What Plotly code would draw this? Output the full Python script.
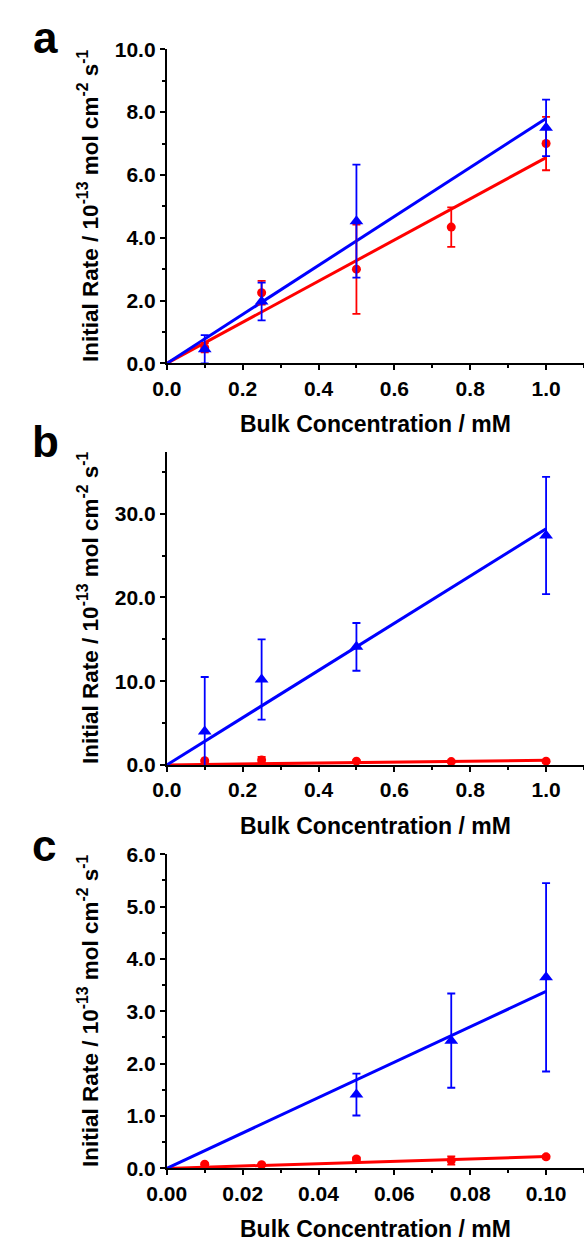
import plotly.graph_objects as go

# ---------------- data ----------------
# panel a
a_blue_x = [0.1, 0.25, 0.5, 1.0]
a_blue_y = [0.45, 1.97, 4.53, 7.5]
a_blue_err = [0.45, 0.6, 1.8, 0.9]
a_red_x = [0.1, 0.25, 0.5, 0.75, 1.0]
a_red_y = [0.5, 2.25, 3.0, 4.34, 7.0]
a_red_err = [0.15, 0.38, 1.42, 0.63, 0.85]
a_blue_slope = 7.8
a_red_slope = 6.55

# panel b
b_blue_x = [0.1, 0.25, 0.5, 1.0]
b_blue_y = [4.0, 10.2, 14.1, 27.4]
b_blue_err = [6.5, 4.8, 2.85, 7.0]
b_red_x = [0.1, 0.25, 0.5, 0.75, 1.0]
b_red_y = [0.5, 0.6, 0.45, 0.4, 0.45]
b_red_err = [0.1, 0.35, 0.1, 0.1, 0.1]
b_blue_slope = 28.2
b_red_slope = 0.55

# panel c
c_blue_x = [0.05, 0.075, 0.1]
c_blue_y = [1.41, 2.44, 3.65]
c_blue_err = [0.4, 0.9, 1.8]
c_red_x = [0.01, 0.025, 0.05, 0.075, 0.1]
c_red_y = [0.08, 0.07, 0.18, 0.15, 0.22]
c_red_err = [0.02, 0.02, 0.03, 0.08, 0.03]
c_blue_slope = 33.8
c_red_slope = 2.25

x_ticks_ab = [0.0, 0.2, 0.4, 0.6, 0.8, 1.0]
x_ticks_c = [0.0, 0.02, 0.04, 0.06, 0.08, 0.10]
y_ticks_a = [0.0, 2.0, 4.0, 6.0, 8.0, 10.0]
y_ticks_b = [0.0, 10.0, 20.0, 30.0]
y_ticks_c = [0.0, 1.0, 2.0, 3.0, 4.0, 5.0, 6.0]

panel_letters = ["a", "b", "c"]
x_title = "Bulk Concentration / mM"
y_title = "Initial Rate / 10<sup>-13</sup> mol cm<sup>-2</sup> s<sup>-1</sup>"

BLUE = "#0000ff"
RED = "#ff0000"
W, H = 584, 1253

fig = go.Figure()

panels = [
    dict(bx=a_blue_x, by=a_blue_y, be=a_blue_err, rx=a_red_x, ry=a_red_y, re=a_red_err,
         bs=a_blue_slope, rs=a_red_slope),
    dict(bx=b_blue_x, by=b_blue_y, be=b_blue_err, rx=b_red_x, ry=b_red_y, re=b_red_err,
         bs=b_blue_slope, rs=b_red_slope),
    dict(bx=c_blue_x, by=c_blue_y, be=c_blue_err, rx=c_red_x, ry=c_red_y, re=c_red_err,
         bs=c_blue_slope, rs=c_red_slope),
]

for i, p in enumerate(panels):
    xa = "x" if i == 0 else f"x{i+1}"
    ya = "y" if i == 0 else f"y{i+1}"
    xmax = max(p["bx"])
    # fit lines
    fig.add_trace(go.Scatter(x=[0, xmax], y=[0, p["rs"] * xmax], mode="lines",
                             line=dict(color=RED, width=3), xaxis=xa, yaxis=ya,
                             showlegend=False, hoverinfo="skip"))
    fig.add_trace(go.Scatter(x=[0, xmax], y=[0, p["bs"] * xmax], mode="lines",
                             line=dict(color=BLUE, width=3), xaxis=xa, yaxis=ya,
                             showlegend=False, hoverinfo="skip"))
    # data points
    fig.add_trace(go.Scatter(x=p["rx"], y=p["ry"], mode="markers",
                             marker=dict(symbol="circle", size=9, color=RED),
                             error_y=dict(type="data", array=p["re"], color=RED,
                                          thickness=1.8, width=4),
                             xaxis=xa, yaxis=ya, showlegend=False))
    fig.add_trace(go.Scatter(x=p["bx"], y=p["by"], mode="markers",
                             marker=dict(symbol="triangle-up", size=12, color=BLUE),
                             error_y=dict(type="data", array=p["be"], color=BLUE,
                                          thickness=1.8, width=4),
                             xaxis=xa, yaxis=ya, showlegend=False))

FAM = "Liberation Sans, Arial, sans-serif"
TICKFONT = dict(family=FAM, size=21, color="black", weight="bold")

x_left = 152 / W

def ydom(top_px, bottom_px):
    return [1 - bottom_px / H, 1 - top_px / H]

def xaxis_cfg(rng, ticks, fmt, minor_dtick, anchor):
    return dict(domain=[x_left, 1.0], range=rng, tickvals=ticks, tickformat=fmt,
                anchor=anchor,
                showline=True, linecolor="black", linewidth=2, ticks="outside",
                ticklen=5, tickwidth=2, tickcolor="black", showgrid=False, zeroline=False,
                tickfont=TICKFONT, fixedrange=True,
                minor=dict(dtick=minor_dtick, tick0=0, ticks="outside", ticklen=3,
                           tickwidth=2, tickcolor="black", showgrid=False))

def yaxis_cfg(dom, rng, ticks, anchor, minor_dtick):
    return dict(domain=dom, range=rng, tickvals=ticks, tickformat=".1f", anchor=anchor,
                showline=True, linecolor="black", linewidth=2, ticks="outside",
                ticklen=5, tickwidth=2, tickcolor="black", showgrid=False, zeroline=False,
                tickfont=TICKFONT, fixedrange=True,
                minor=dict(dtick=minor_dtick, tick0=0, ticks="outside", ticklen=3,
                           tickwidth=2, tickcolor="black", showgrid=False))

doms = [(38, 358), (448, 767), (858, 1178)]

fig.update_layout(
    width=W, height=H, margin=dict(l=0, r=0, t=0, b=0),
    paper_bgcolor="white", plot_bgcolor="white", showlegend=False,
    xaxis=xaxis_cfg([0, 1.1], x_ticks_ab, ".1f", 0.1, "y"),
    xaxis2=xaxis_cfg([0, 1.1], x_ticks_ab, ".1f", 0.1, "y2"),
    xaxis3=xaxis_cfg([0, 0.11], x_ticks_c, ".2f", 0.01, "y3"),
    yaxis=yaxis_cfg(ydom(*doms[0]), [0, 10], y_ticks_a, "x", 1.0),
    yaxis2=yaxis_cfg(ydom(*doms[1]), [0, 37.4], y_ticks_b, "x2", 5.0),
    yaxis3=yaxis_cfg(ydom(*doms[2]), [0, 6], y_ticks_c, "x3", 0.5),
)

annots = []
letter_pos = [(26, 26), (26, 438), (25, 849)]
for i, (top, bot) in enumerate(doms):
    cy = (top + bot) / 2
    annots.append(dict(text=y_title, x=71 / W, y=1 - cy / H, xref="paper", yref="paper",
                       textangle=-90, showarrow=False, xanchor="center", yanchor="middle",
                       font=dict(family=FAM, size=22.5, color="black", weight="bold")))
    annots.append(dict(text=x_title, x=368 / W, y=1 - (bot + 62) / H, xref="paper",
                       yref="paper", showarrow=False, xanchor="center", yanchor="middle",
                       font=dict(family=FAM, size=23, color="black", weight="bold")))
    lx, ly = letter_pos[i]
    annots.append(dict(text=panel_letters[i], x=lx / W, y=1 - ly / H,
                       xref="paper", yref="paper", showarrow=False, xanchor="center",
                       yanchor="middle",
                       font=dict(family=FAM, size=44, color="black", weight="bold")))
fig.update_layout(annotations=annots)

fig.write_html("out.html",
               config={"displayModeBar": False, "staticPlot": True},
               post_script="document.body.style.margin='0px';"
                           "document.body.style.overflow='hidden';")
